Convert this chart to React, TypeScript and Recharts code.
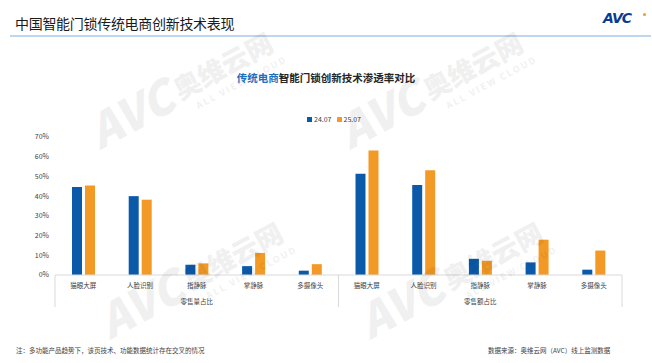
import { BarChart, Bar, XAxis, YAxis } from "recharts";

// categories: technology per metric group
const techs = ["猫眼大屏", "人脸识别", "指静脉", "掌静脉", "多摄像头"];
const groups = ["零售量占比", "零售额占比"];
const seriesNames = ["24.07", "25.07"];

// penetration rate (share), per group, per technology
const volume2407 = [0.447, 0.4, 0.052, 0.045, 0.022];
const volume2507 = [0.454, 0.382, 0.059, 0.112, 0.055];
const value2407 = [0.514, 0.457, 0.082, 0.064, 0.027];
const value2507 = [0.631, 0.531, 0.072, 0.179, 0.124];

const yTicks = [0, 0.1, 0.2, 0.3, 0.4, 0.5, 0.6, 0.7];

const BLUE = "#0B5AAA";
const ORANGE = "#F39A26";
const FONT = '"Noto Sans CJK SC", "Noto Sans", sans-serif';

const W = 652;
const H = 363;
const MARGIN = { top: 137, right: 30, bottom: 58, left: 25 };
const Y_AXIS_W = 30;
const PLOT_W = W - MARGIN.left - MARGIN.right - Y_AXIS_W;

const data = [
  ...techs.map((t, i) => ({ name: t, group: groups[0], a: volume2407[i], b: volume2507[i] })),
  ...techs.map((t, i) => ({ name: t, group: groups[1], a: value2407[i], b: value2507[i] })),
];

const n = data.length;
const band = PLOT_W / n;

// category label + group label + separator lines, drawn per tick
function CategoryTick(props: any) {
  const { x, y, payload, index } = props;
  const per = techs.length;
  const pos = index % per;
  const lines = [];
  if (pos === 0) {
    lines.push(
      <line key="l" x1={x - band / 2} x2={x - band / 2} y1={y} y2={y + 32} stroke="#D9D9D9" strokeWidth={1} />
    );
  }
  if (index === n - 1) {
    lines.push(
      <line key="r" x1={x + band / 2} x2={x + band / 2} y1={y} y2={y + 32} stroke="#D9D9D9" strokeWidth={1} />
    );
  }
  return (
    <g>
      {lines}
      <text x={x} y={y + 13} textAnchor="middle" fontSize={6.5} fill="#404040" fontFamily={FONT}>
        {payload.value}
      </text>
      {pos === Math.floor(per / 2) && (
        <text x={x} y={y + 29} textAnchor="middle" fontSize={6.5} fill="#404040" fontFamily={FONT}>
          {data[index].group}
        </text>
      )}
    </g>
  );
}

function Watermark({ x, y }: { x: number; y: number }) {
  return (
    <g transform={`translate(${x},${y}) rotate(-28)`} opacity={0.055} fontFamily={FONT}>
      <text x={0} y={0} fontSize={46} fontWeight={900} fontStyle="italic" fill="#000">
        AVC
      </text>
      <text x={94} y={-6} fontSize={27} fontWeight={900} fill="#000">
        奥维云网
      </text>
      <text x={106} y={10} fontSize={9} fontWeight={700} fill="#000" letterSpacing={2}>
        ALL VIEW CLOUD
      </text>
    </g>
  );
}

export default function App() {
  return (
    <div style={{ position: "relative", width: W, height: H, background: "#fff", fontFamily: FONT, overflow: "hidden" }}>
      <style>{"body{margin:0}"}</style>

      {/* page header */}
      <div style={{ position: "absolute", left: 15, top: 13, fontSize: 14, color: "#1a1a1a", letterSpacing: -0.3 }}>
        中国智能门锁传统电商创新技术表现
      </div>
      <div style={{ position: "absolute", left: 10, top: 35, width: 641, height: 2, background: "#BDD7EE" }} />
      <div
        style={{
          position: "absolute",
          left: 603,
          top: 10,
          fontSize: 14,
          fontWeight: 900,
          fontStyle: "italic",
          color: "#0A3D8F",
          fontFamily: '"DejaVu Sans", sans-serif',
          letterSpacing: -1,
        }}
      >
        AVC
      </div>
      <div style={{ position: "absolute", left: 643, top: 13, width: 3, height: 3, borderRadius: 2, background: ORANGE }} />

      {/* chart title */}
      <div
        style={{
          position: "absolute",
          left: 0,
          width: W,
          top: 70,
          textAlign: "center",
          fontSize: 10.5,
          fontWeight: 700,
          color: "#262626",
        }}
      >
        <span style={{ color: "#1F6FC0" }}>传统电商</span>智能门锁创新技术渗透率对比
      </div>

      {/* legend */}
      <div style={{ position: "absolute", left: 307, top: 114, display: "flex", gap: 5, fontSize: 7, color: "#404040" }}>
        {seriesNames.map((s, i) => (
          <span key={s} style={{ display: "flex", alignItems: "center", gap: 2 }}>
            <span style={{ width: 5, height: 5, background: i === 0 ? BLUE : ORANGE, display: "inline-block" }} />
            {s}
          </span>
        ))}
      </div>

      <div style={{ position: "absolute", left: 0, top: 0 }}>
        <BarChart width={W} height={H} data={data} margin={MARGIN} barSize={10} barGap={3}>
          <XAxis
            dataKey="name"
            interval={0}
            tickLine={false}
            tickSize={0}
            tickMargin={0}
            height={30}
            axisLine={{ stroke: "#D9D9D9" }}
            tick={<CategoryTick />}
          />
          <YAxis
            width={Y_AXIS_W}
            domain={[0, 0.7]}
            ticks={yTicks}
            axisLine={false}
            tickLine={false}
            tickSize={0}
            tickMargin={6}
            tick={{ fontSize: 7, fill: "#404040", fontFamily: FONT }}
            tickFormatter={(v: number) => `${Math.round(v * 100)}%`}
          />
          <Bar dataKey="a" name={seriesNames[0]} fill={BLUE} isAnimationActive={false} />
          <Bar dataKey="b" name={seriesNames[1]} fill={ORANGE} isAnimationActive={false} />
        </BarChart>
      </div>

      {/* watermark */}
      <svg width={W} height={H} style={{ position: "absolute", left: 0, top: 0, pointerEvents: "none" }}>
        <Watermark x={100} y={150} />
        <Watermark x={350} y={150} />
        <Watermark x={110} y={340} />
        <Watermark x={370} y={340} />
      </svg>

      {/* footer */}
      <div style={{ position: "absolute", left: 16, top: 345, fontSize: 6.5, color: "#404040" }}>
        注：多功能产品趋势下，该页技术、功能数据统计存在交叉的情况
      </div>
      <div style={{ position: "absolute", left: 488, top: 345, fontSize: 6.5, color: "#404040" }}>
        数据来源：奥维云网（AVC）线上监测数据
      </div>
    </div>
  );
}
